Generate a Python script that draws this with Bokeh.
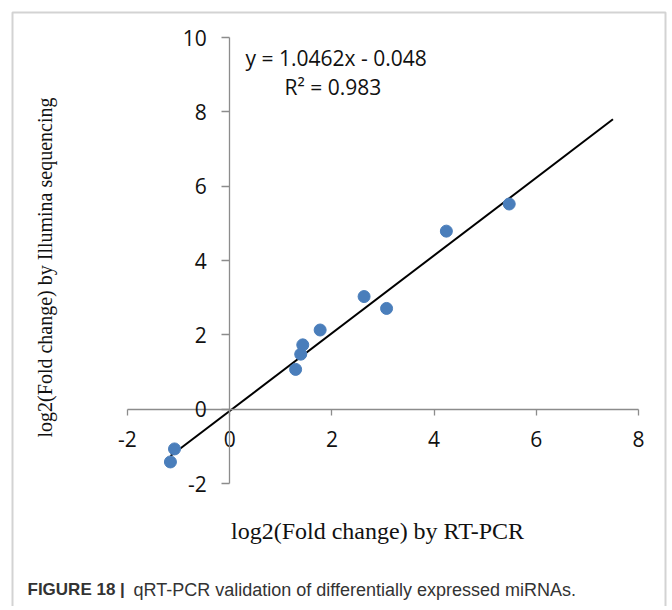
import math
from bokeh.plotting import figure
from bokeh.models import Range1d, FixedTicker, Label, BoxAnnotation
from bokeh.embed import file_html
from bokeh.resources import INLINE

# ---- data ----
rt_pcr = [-1.16, -1.08, 1.29, 1.39, 1.43, 1.77, 2.63, 3.07, 4.24, 5.47]
illumina = [-1.42, -1.07, 1.07, 1.48, 1.73, 2.13, 3.03, 2.71, 4.79, 5.52]
x_ticks = [-2, 0, 2, 4, 6, 8]
y_ticks = [-2, 0, 2, 4, 6, 8, 10]
slope = 1.0462
intercept = -0.048
r_squared = 0.983
trend_end = 7.5

x_title = "log2(Fold change) by RT-PCR"
y_title = "log2(Fold change) by Illumina sequencing"
caption_bold = "FIGURE 18 |"
caption_text = "qRT-PCR validation of differentially expressed miRNAs."

# ---- layout (pixels inside the canvas) ----
W, H = 668, 606
AX_LEFT, AX_RIGHT = 127, 638     # where x = -2 and x = 8 sit
AX_TOP, AX_BOTTOM = 37, 483      # where y = 10 and y = -2 sit

xs_per = (AX_RIGHT - AX_LEFT) / (x_ticks[-1] - x_ticks[0])
ys_per = (AX_BOTTOM - AX_TOP) / (y_ticks[-1] - y_ticks[0])
x_start = x_ticks[0] - AX_LEFT / xs_per
x_end = x_ticks[-1] + (W - AX_RIGHT) / xs_per
y_end = y_ticks[-1] + AX_TOP / ys_per
y_start = y_ticks[0] - (H - AX_BOTTOM) / ys_per

p = figure(width=W, height=H, output_backend="svg", toolbar_location=None,
           x_range=Range1d(x_start, x_end), y_range=Range1d(y_start, y_end),
           min_border=0)
p.grid.visible = False
p.outline_line_color = None
p.background_fill_color = "white"
p.border_fill_color = "white"

for ax, ticks in ((p.xaxis, x_ticks), (p.yaxis, y_ticks)):
    ax.fixed_location = 0
    ax.bounds = (ticks[0], ticks[-1])
    ax.ticker = FixedTicker(ticks=ticks)
    ax.major_label_overrides = {t: str(t) for t in ticks}
    ax.axis_line_color = "#8c8c8c"
    ax.axis_line_width = 1.3
    ax.major_tick_line_color = "#8c8c8c"
    ax.major_tick_line_width = 1.3
    ax.major_tick_in = 0
    ax.minor_tick_line_color = None
    ax.major_label_text_font = "Open Sans"
    ax.major_label_text_font_size = "21px"
    ax.major_label_text_color = "#111111"

p.xaxis.major_tick_out = 6
p.xaxis.major_label_standoff = 16
p.yaxis.major_tick_out = 8
p.yaxis.major_label_standoff = 15

# trend line from the fitted equation
tx = [min(rt_pcr), trend_end]
ty = [slope * v + intercept for v in tx]
p.line(tx, ty, line_color="black", line_width=2)

p.scatter(rt_pcr, illumina, size=12, fill_color="#4A7EBB", line_color="#4A7EBB")

def lab(x, y, text, **kw):
    # x from the left of the canvas, y from its top
    p.add_layout(Label(x=x, y=H - y, x_units="screen", y_units="screen",
                       text=text, text_baseline="middle", **kw))

lab(245, 57, f"y = {slope}x - {abs(intercept)}",
    text_font="Open Sans", text_font_size="21px", text_color="#111111")
lab(284, 86, f"R² = {r_squared}",
    text_font="Open Sans", text_font_size="21px", text_color="#111111")

lab(377, 530, x_title, text_font="Liberation Serif", text_font_size="24px",
    text_align="center", text_color="#111111")
lab(44, 267, y_title, angle=math.pi / 2, text_font="Liberation Serif",
    text_font_size="20px", text_align="center", text_color="#111111")

lab(27, 589, caption_bold, text_font="Liberation Sans", text_font_style="bold",
    text_font_size="17px", text_color="#333333")
lab(133, 589, caption_text, text_font="Liberation Sans",
    text_font_size="18px", text_color="#333333")

p.add_layout(BoxAnnotation(left=12, right=665, top=H - 12, bottom=-10,
                           left_units="screen", right_units="screen",
                           top_units="screen", bottom_units="screen",
                           fill_alpha=0, line_color="#6e6e6e", line_width=2))

open("out.html", "w").write(file_html(p, INLINE))
